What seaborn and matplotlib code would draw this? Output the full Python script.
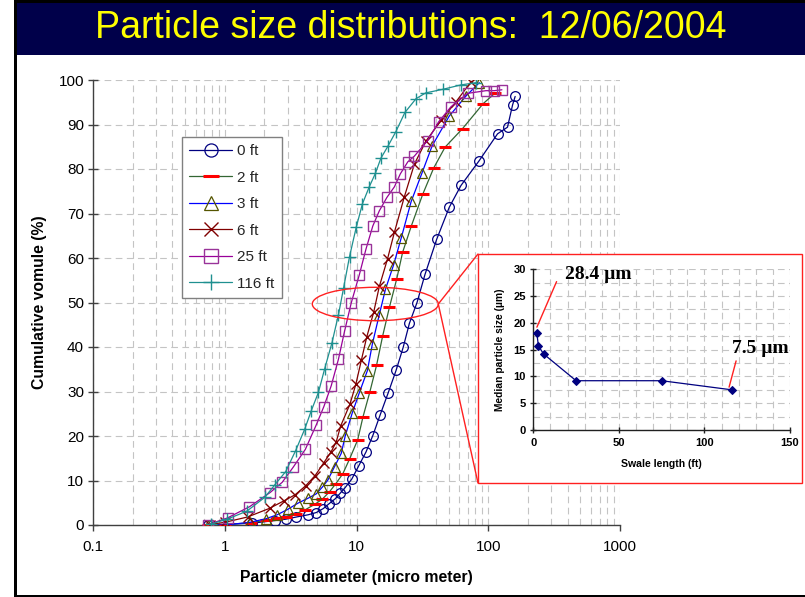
import numpy as np
import pandas as pd
import matplotlib
matplotlib.use('Agg')
import matplotlib.pyplot as plt
import seaborn as sns
from matplotlib.patches import Rectangle, Ellipse
from matplotlib.lines import Line2D
from matplotlib.ticker import FixedLocator, FixedFormatter, MultipleLocator, NullFormatter

# ---------------- data ----------------
title_text = "Particle size distributions:  12/06/2004"

zero_x = [0.75, 1.6, 2.4, 2.9, 3.5, 4.3, 4.95, 5.6, 6.2, 6.9, 7.5, 8.2, 9.2, 10.4, 11.8, 13.3, 15.1, 17.4,
          20.0, 22.6, 25.2, 28.8, 33.1, 40.6, 50.6, 62.1, 85.5, 117.6, 140, 153, 160]
zero_y = [0.0, 0.4, 1.0, 1.3, 1.8, 2.3, 2.8, 3.7, 4.8, 5.9, 7.1, 8.4, 10.3, 13.3, 16.4, 20.1, 24.7, 29.7,
          34.8, 39.9, 45.3, 50.0, 56.3, 64.2, 71.4, 76.3, 81.9, 87.9, 89.4, 94.4, 96.3]

two_x = [0.75, 1.0, 1.59, 2.07, 2.49, 2.93, 3.45, 4.07, 4.85, 5.50, 6.25, 6.93, 7.87, 8.85, 10.2, 11.2,
         12.6, 14.2, 15.8, 17.8, 20.2, 22.4, 26.0, 31.8, 38.5, 47.0, 63.9, 91.6, 113]
two_y = [0.0, 0.1, 0.5, 1.1, 1.5, 1.9, 2.5, 3.4, 4.7, 5.8, 7.5, 9.2, 11.5, 14.8, 19.1, 24.3,
         29.8, 35.9, 42.5, 49.0, 55.3, 61.3, 67.1, 74.3, 80.2, 84.9, 89.1, 94.7, 97.1]

three_x = [0.75, 1.01, 1.55, 2.05, 2.5, 3.0, 3.59, 4.28, 4.95, 5.5, 6.06, 6.81, 7.66, 8.21, 9.29, 10.5,
           12.1, 13.2, 14.9, 16.6, 19.1, 21.8, 26.0, 31.5, 37.5, 50.6, 67.8, 85.5]
three_y = [0.0, 0.0, 0.6, 1.4, 2.3, 3.5, 4.9, 6.0, 7.0, 8.5, 10.1, 13.1, 16.1, 20.0, 25.2, 29.7,
           34.7, 40.7, 47.3, 53.0, 58.4, 64.4, 72.7, 79.2, 85.2, 91.9, 96.4, 99.4]

six_x = [0.77, 1.0, 1.49, 2.19, 2.80, 3.42, 4.11, 4.85, 5.62, 6.43, 7.02, 7.57, 8.93, 9.88, 10.9, 11.95,
         13.5, 14.9, 17.2, 19.4, 23.1, 27.5, 33.7, 43.8, 56.9, 74.0]
six_y = [0.1, 0.6, 1.8, 3.75, 5.4, 6.8, 8.8, 11.1, 13.9, 16.5, 18.7, 22.2, 27.2, 31.6, 37.1, 42.2,
         47.8, 53.6, 59.8, 65.8, 73.8, 81.1, 86.3, 90.9, 95.1, 99.6]

tf_x = [0.75, 1.05, 1.54, 2.21, 2.73, 3.31, 4.09, 4.95, 5.65, 6.43, 7.30, 8.11, 9.12, 10.5, 11.8, 13.3,
        14.9, 17.0, 19.4, 21.5, 24.5, 27.5, 34.7, 42.0, 52.2, 69.7, 96.1, 111, 127]
tf_y = [0.1, 1.6, 4.1, 7.3, 9.6, 13.0, 17.0, 22.5, 26.6, 31.3, 37.3, 43.5, 49.9, 56.2, 62.0, 67.2,
        70.6, 73.6, 76.0, 78.9, 81.6, 82.9, 86.4, 90.6, 94.0, 97.0, 97.6, 97.6, 97.8]

ohs_x = [0.78, 1.04, 1.47, 2.01, 2.41, 2.90, 3.45, 4.04, 4.54, 5.14, 5.72, 6.52, 7.30, 7.97, 8.85, 9.97,
         11.1, 12.5, 13.9, 15.3, 17.3, 19.9, 23.3, 28.3, 33.5, 45.1, 62.1, 80.7]
ohs_y = [0.2, 1.3, 3.1, 6.2, 9.1, 12.0, 16.7, 21.5, 25.7, 29.8, 35.0, 41.0, 47.3, 53.2, 60.3, 67.0,
         72.2, 76.0, 79.0, 82.4, 85.1, 88.4, 92.7, 95.8, 97.1, 97.9, 98.9, 99.4]

series_labels = ["0 ft", "2 ft", "3 ft", "6 ft", "25 ft", "116 ft"]

swale_length = [2, 3, 6, 25, 75, 116]
median_size = [18.2, 15.7, 14.2, 9.2, 9.2, 7.5]

x_ticks = [0.1, 1, 10, 100, 1000]
x_tick_labels = ["0.1", "1", "10", "100", "1000"]
y_ticks = [0, 10, 20, 30, 40, 50, 60, 70, 80, 90, 100]

# ---------------- style ----------------
sns.set_theme(style='white')
plt.rcParams['font.family'] = ['Liberation Sans', 'DejaVu Sans']

W, H = 805, 597
fig = plt.figure(figsize=(W / 100, H / 100), dpi=100)
fig.patch.set_facecolor('white')

def fx(px):
    return px / W

def fy(py):
    return 1 - py / H

# slide frame and title band
fig.add_artist(Rectangle((fx(17), fy(55)), 1 - fx(17), 52 / H, transform=fig.transFigure,
                         facecolor='#00004A', edgecolor='none', zorder=0))
fig.add_artist(Rectangle((fx(14), fy(3)), 1 - fx(14), 3 / H, transform=fig.transFigure,
                         facecolor='black', edgecolor='none', zorder=0))
fig.add_artist(Rectangle((fx(14), 0), 3 / W, 1, transform=fig.transFigure,
                         facecolor='black', edgecolor='none', zorder=0))
fig.add_artist(Rectangle((fx(14), 0), 1 - fx(14), 2.5 / H, transform=fig.transFigure,
                         facecolor='black', edgecolor='none', zorder=0))
fig.text(fx(411), fy(28), title_text, color='#FFFF00', fontsize=27,
         family=['Liberation Sans Narrow', 'Liberation Sans', 'DejaVu Sans'],
         ha='center', va='center', zorder=1)

# ---------------- main axes ----------------
ax = fig.add_axes([fx(93), fy(525), (620 - 93) / W, (525 - 80) / H])
ax.set_facecolor('white')
ax.set_xscale('log')

grid_kw = dict(color='#C4C4C4', linestyle=(0, (6, 4)), linewidth=0.8)

specs = [
    (zero_x, zero_y, dict(color='#000080', marker='o', markersize=7, markerfacecolor='none',
                          markeredgecolor='#000080', markeredgewidth=0.9)),
    (two_x, two_y, dict(color='#336633', marker='_', markersize=8.5, markerfacecolor='#FF0000',
                        markeredgecolor='#FF0000', markeredgewidth=2.2)),
    (three_x, three_y, dict(color='#0000FF', marker='^', markersize=7.5, markerfacecolor='none',
                            markeredgecolor='#555500', markeredgewidth=0.9)),
    (six_x, six_y, dict(color='#800000', marker='x', markersize=7.5, markerfacecolor='none',
                        markeredgecolor='#800000', markeredgewidth=1.0)),
    (tf_x, tf_y, dict(color='#990099', marker='s', markersize=7, markerfacecolor='none',
                      markeredgecolor='#993399', markeredgewidth=1.0)),
    (ohs_x, ohs_y, dict(color='#1F9090', marker='+', markersize=8.5, markerfacecolor='none',
                        markeredgecolor='#1F9090', markeredgewidth=1.0)),
]
for (xs, ys, kw), lab in zip(specs, series_labels):
    df = pd.DataFrame({'d': xs, 'v': ys})
    sns.lineplot(data=df, x='d', y='v', ax=ax, label=lab, linewidth=0.9, zorder=3, **kw)

ax.set_xlim(0.1, 1000)
ax.set_ylim(0, 100)
ax.xaxis.set_major_locator(FixedLocator(x_ticks))
ax.xaxis.set_major_formatter(FixedFormatter(x_tick_labels))
minor = [k * 10.0 ** d for d in range(-1, 3) for k in range(2, 10)]
ax.xaxis.set_minor_locator(FixedLocator(minor))
ax.xaxis.set_minor_formatter(NullFormatter())
ax.yaxis.set_major_locator(FixedLocator(y_ticks))
ax.grid(True, axis='x', which='both', **grid_kw)
ax.grid(True, axis='y', which='major', **grid_kw)
ax.set_axisbelow(True)

for s in ['top', 'right']:
    ax.spines[s].set_visible(False)
for s in ['left', 'bottom']:
    ax.spines[s].set_color('#404040')
    ax.spines[s].set_linewidth(1.0)

ax.tick_params(axis='x', which='major', direction='out', length=4, width=1, color='#404040',
               labelsize=11, pad=7, labelcolor='black', bottom=True)
ax.tick_params(axis='x', which='minor', length=0)
ax.tick_params(axis='y', which='major', direction='inout', length=7, width=1, color='#404040',
               labelsize=11, pad=3, labelcolor='black', left=True)

ax.set_xlabel('Particle diameter (micro meter)', fontsize=11.3, fontweight='bold', labelpad=11, color='black')
ax.set_ylabel('Cumulative vomule (%)', fontsize=11.3, fontweight='bold', labelpad=8, color='black')

leg = ax.legend(loc='upper left', bbox_to_anchor=(0.168, 0.873), borderaxespad=0, frameon=True,
                fancybox=False, edgecolor='#808080', facecolor='white', framealpha=1,
                fontsize=11, handlelength=2.8, handletextpad=0.35, labelspacing=0.82,
                borderpad=0.5, markerscale=1.35)
leg.get_frame().set_linewidth(1.0)
leg.set_zorder(6)

# ---------------- zoom connectors ----------------
fig.add_artist(Rectangle((fx(478), fy(483)), (802 - 478) / W, (483 - 254) / H, transform=fig.transFigure,
                         facecolor='white', edgecolor='#FF2020', linewidth=1.0, zorder=4))
fig.add_artist(Ellipse((fx(375.3), fy(304)), 126 / W, 33.4 / H, transform=fig.transFigure,
                       fill=False, edgecolor='#FF2020', linewidth=1.0, zorder=7))
fig.add_artist(Line2D([fx(438.3), fx(478)], [fy(304), fy(254)], transform=fig.transFigure,
                      color='#FF2020', linewidth=1.0, zorder=7))
fig.add_artist(Line2D([fx(438.3), fx(478)], [fy(304), fy(483)], transform=fig.transFigure,
                      color='#FF2020', linewidth=1.0, zorder=7))

# ---------------- inset ----------------
axin = fig.add_axes([fx(533.3), fy(430), (790 - 533.3) / W, (430 - 269.3) / H], zorder=8)
axin.set_facecolor('white')
sns.lineplot(x=swale_length, y=median_size, ax=axin, color='#000080', linewidth=0.9,
             marker='D', markersize=4.5, markerfacecolor='#000080', markeredgecolor='#000080', zorder=3)
axin.set_xlim(0, 150)
axin.set_ylim(0, 30)
axin.xaxis.set_major_locator(MultipleLocator(50))
axin.xaxis.set_minor_locator(MultipleLocator(10))
axin.yaxis.set_major_locator(MultipleLocator(5))
axin.yaxis.set_minor_locator(MultipleLocator(2.5))
axin.grid(True, which='both', **grid_kw)
axin.set_axisbelow(True)
for s in ['top', 'right']:
    axin.spines[s].set_visible(False)
for s in ['left', 'bottom']:
    axin.spines[s].set_color('#202020')
    axin.spines[s].set_linewidth(1.0)
axin.tick_params(which='minor', length=0)
axin.tick_params(axis='both', which='major', direction='inout', length=5, width=1, color='#202020',
                 labelsize=8, pad=3, labelcolor='black', left=True, bottom=True)
for t in axin.get_xticklabels() + axin.get_yticklabels():
    t.set_fontweight('bold')
axin.set_xlabel('Swale length (ft)', fontsize=7.6, fontweight='bold', labelpad=8, color='black')
axin.set_ylabel('Median particle size (µm)', fontsize=7.4, fontweight='bold', labelpad=6, color='black')

axin.plot([2.1, 13.6], [19.2, 27.7], color='#FF2020', linewidth=1.0, clip_on=False, zorder=4)
axin.plot([114.4, 118.5], [8.0, 12.9], color='#FF2020', linewidth=1.0, clip_on=False, zorder=4)
axin.text(18.5, 28.1, '28.4 µm', family=['Liberation Serif', 'DejaVu Serif'], fontweight='bold',
          fontsize=14, ha='left', va='baseline', color='black', clip_on=False)
axin.text(116, 14.3, '7.5 µm', family=['Liberation Serif', 'DejaVu Serif'], fontweight='bold',
          fontsize=14, ha='left', va='baseline', color='black', clip_on=False)

fig.savefig('out.png', dpi=100, facecolor='white')
